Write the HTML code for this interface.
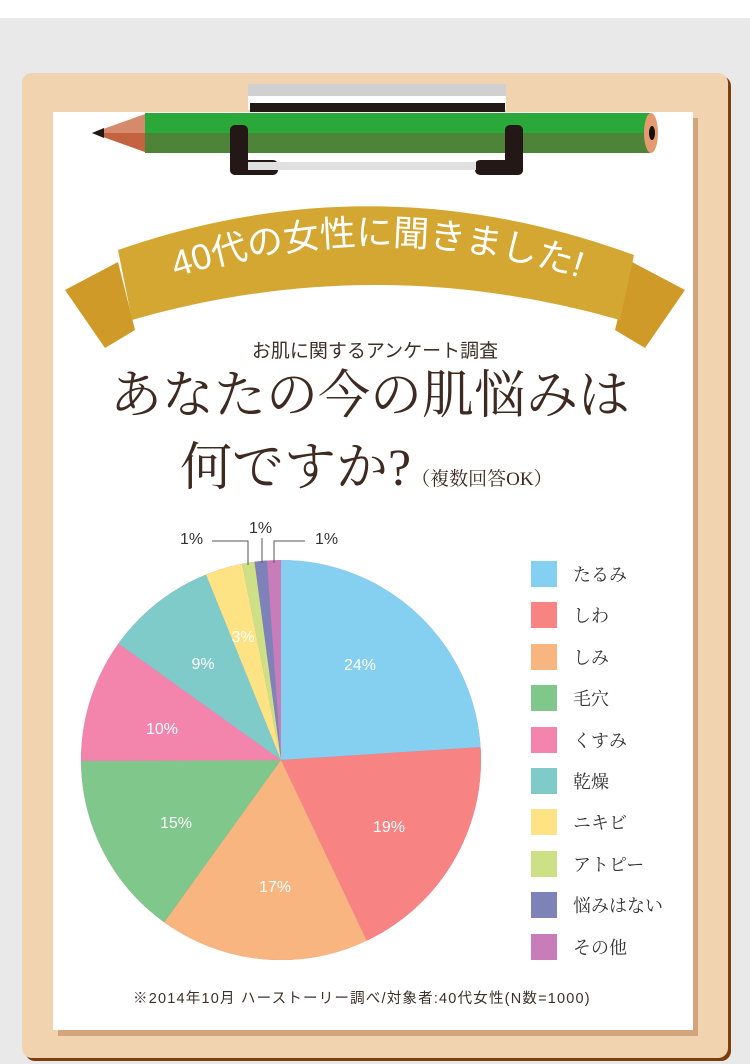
<!DOCTYPE html>
<html><head><meta charset="utf-8"><style>
body{margin:0;width:750px;height:1064px;overflow:hidden;background:#fff;position:relative;font-family:"Liberation Sans","Noto Sans CJK JP",sans-serif}
.abs{position:absolute}
</style></head><body>
<div class="abs" style="left:0;top:18px;width:750px;height:1046px;background:#e9e9e9"></div>
<div class="abs" style="left:22px;top:73px;width:706px;height:985px;background:#f2d3b0;border-radius:10px;box-shadow:3px 3px 0 #7c3d0f"></div>
<div class="abs" style="left:58px;top:118px;width:640px;height:918px;background:#d4a47d"></div>
<div class="abs" style="left:53px;top:112px;width:640px;height:918px;background:#fff"></div>
<svg class="abs" style="left:0;top:0" width="750" height="1064">
 <rect x="248" y="84" width="258" height="20" fill="#d0d0d0"/>
 <rect x="248" y="96" width="258" height="14" fill="#fff"/>
 <rect x="250" y="103" width="255" height="9" fill="#231815"/>
 <polygon points="92,133 145,114 145,152" fill="#d58a6c"/>
 <polygon points="92,133 145,133 145,152" fill="#c3633f"/>
 <polygon points="92,133 104,128 104,138" fill="#231815"/>
 <rect x="145" y="113" width="505" height="20" fill="#2ba83a"/>
 <rect x="145" y="133" width="505" height="20" fill="#4e8437"/>
 <ellipse cx="651" cy="133" rx="7" ry="20" fill="#e69a72"/>
 <ellipse cx="652" cy="133" rx="3" ry="7" fill="#111"/>
 <rect x="230" y="125" width="18" height="50" rx="5" fill="#231815"/>
 <rect x="230" y="160" width="48" height="15" rx="5" fill="#231815"/>
 <rect x="505" y="125" width="18" height="50" rx="5" fill="#231815"/>
 <rect x="475" y="160" width="48" height="15" rx="5" fill="#231815"/>
 <rect x="248" y="162" width="228" height="8" fill="#e0e0e0"/>
 <polygon points="65,290 118,262 135,330 105,348" fill="#cf9a27"/>
 <polygon points="685,290 632,262 615,330 645,348" fill="#cf9a27"/>
 <path d="M118,250 Q375,160 634,255 L620,320 Q375,250 132,320 Z" fill="#d4a632"/>
 <path id="arc" d="M140,290 Q375,200 615,290" fill="none"/>
 <text font-family="'Liberation Sans','Noto Sans CJK JP',sans-serif" font-size="36" fill="#fff"><textPath href="#arc" startOffset="50%" text-anchor="middle">40代の女性に聞きました!</textPath></text>
 <g transform="rotate(-90 281 760)" fill="none" stroke-width="200">
  <circle cx="281" cy="760" r="100" stroke="#c87dba"/>
  <circle cx="281" cy="760" r="100" pathLength="100" stroke="#85cff0" stroke-dasharray="24 100" stroke-dashoffset="0"/>
  <circle cx="281" cy="760" r="100" pathLength="100" stroke="#f78383" stroke-dasharray="19 100" stroke-dashoffset="-24"/>
  <circle cx="281" cy="760" r="100" pathLength="100" stroke="#f8b580" stroke-dasharray="17 100" stroke-dashoffset="-43"/>
  <circle cx="281" cy="760" r="100" pathLength="100" stroke="#80c78c" stroke-dasharray="15 100" stroke-dashoffset="-60"/>
  <circle cx="281" cy="760" r="100" pathLength="100" stroke="#f385ac" stroke-dasharray="10 100" stroke-dashoffset="-75"/>
  <circle cx="281" cy="760" r="100" pathLength="100" stroke="#7ecbc9" stroke-dasharray="9 100" stroke-dashoffset="-85"/>
  <circle cx="281" cy="760" r="100" pathLength="100" stroke="#fde383" stroke-dasharray="3 100" stroke-dashoffset="-94"/>
  <circle cx="281" cy="760" r="100" pathLength="100" stroke="#cde085" stroke-dasharray="1 100" stroke-dashoffset="-97"/>
  <circle cx="281" cy="760" r="100" pathLength="100" stroke="#7f82b9" stroke-dasharray="1 100" stroke-dashoffset="-98"/>
 </g>
 <g font-size="16" fill="#fff" text-anchor="middle" font-family="'Liberation Sans',sans-serif">
  <text x="360" y="670">24%</text><text x="389" y="832">19%</text><text x="275" y="892">17%</text>
  <text x="176" y="828">15%</text><text x="162" y="734">10%</text><text x="203" y="669">9%</text><text x="243" y="642">3%</text>
 </g>
 <g font-size="16" fill="#333" font-family="'Liberation Sans',sans-serif">
  <text x="180" y="544">1%</text><text x="249" y="533">1%</text><text x="315" y="544">1%</text>
 </g>
 <path d="M212,541 H248 V565 M262,538 V563 M305,541 H274 V563" stroke="#555" fill="none"/>
</svg>
<div class="abs" style="left:0;width:750px;top:336px;text-align:center;font-size:19px;color:#3e3029">お肌に関するアンケート調査</div>
<div class="abs" style="left:0;width:740px;top:364px;text-align:center;font-family:'Liberation Serif','Noto Serif CJK SC',serif;font-size:52px;color:#3e2a20;line-height:66px">あなたの今の肌悩みは</div>
<div class="abs" style="left:180px;top:436px;font-family:'Liberation Serif','Noto Serif CJK SC',serif;font-size:52px;color:#3e2a20;line-height:66px">何ですか?<span style="font-size:19px">（複数回答OK）</span></div>
<div class="abs" style="left:531px;top:561px;font-family:'Liberation Serif','Noto Serif CJK SC',serif;font-size:18px;color:#333">
<div style="height:41.4px;display:flex;align-items:flex-start"><i style="width:26px;height:26px;background:#85cff0;margin-right:16px"></i>たるみ</div>
<div style="height:41.4px;display:flex"><i style="width:26px;height:26px;background:#f78383;margin-right:16px"></i>しわ</div>
<div style="height:41.4px;display:flex"><i style="width:26px;height:26px;background:#f8b580;margin-right:16px"></i>しみ</div>
<div style="height:41.4px;display:flex"><i style="width:26px;height:26px;background:#80c78c;margin-right:16px"></i>毛穴</div>
<div style="height:41.4px;display:flex"><i style="width:26px;height:26px;background:#f385ac;margin-right:16px"></i>くすみ</div>
<div style="height:41.4px;display:flex"><i style="width:26px;height:26px;background:#7ecbc9;margin-right:16px"></i>乾燥</div>
<div style="height:41.4px;display:flex"><i style="width:26px;height:26px;background:#fde383;margin-right:16px"></i>ニキビ</div>
<div style="height:41.4px;display:flex"><i style="width:26px;height:26px;background:#cde085;margin-right:16px"></i>アトピー</div>
<div style="height:41.4px;display:flex"><i style="width:26px;height:26px;background:#7f82b9;margin-right:16px"></i>悩みはない</div>
<div style="height:41.4px;display:flex"><i style="width:26px;height:26px;background:#c87dba;margin-right:16px"></i>その他</div>
</div>
<div class="abs" style="left:133px;top:987px;font-size:14.5px;color:#3e3029;letter-spacing:1.2px">※2014年10月 ハーストーリー調べ/対象者:40代女性(N数=1000)</div>
</body></html>
